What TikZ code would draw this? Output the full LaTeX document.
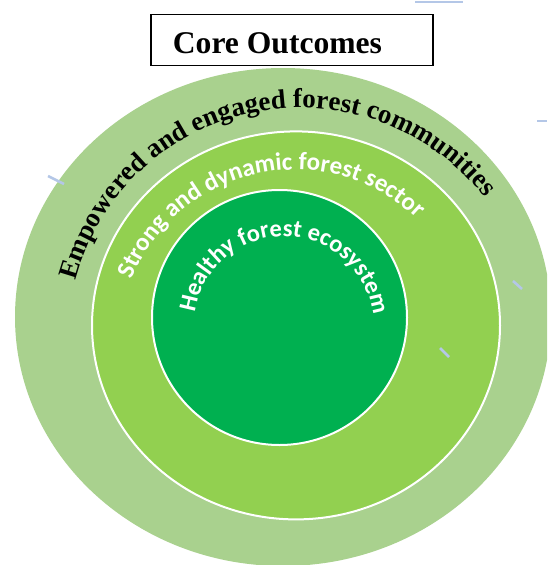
\documentclass[tikz,border=0pt]{standalone}
\usepackage{fontspec}
\setmainfont{Liberation Serif}
\newfontfamily\calibri{Carlito}
\usetikzlibrary{decorations.text}

\definecolor{outerband}{HTML}{A9D18E}
\definecolor{midband}{HTML}{92D050}
\definecolor{coregreen}{HTML}{00B050}
\definecolor{tickblue}{HTML}{B4C7E7}

\tikzset{
  ring/.style={draw=white, line width=2pt},
  titlebox/.style={draw=black, line width=1.6pt, minimum width=282pt, minimum height=51pt, inner sep=0pt},
  tickmark/.style={draw=tickblue, line width=2.6pt},
  arctext/.style={decorate, decoration={text along path, text align=left, text={#1}}},
  whitearctext/.style={decorate, decoration={text along path, text align=left, text color=white, text={#1}}}
}

\begin{document}
\begin{tikzpicture}[x=1pt,y=1pt]
  \useasboundingbox (0,0) rectangle (547,-565);

  % outer band, running past the right and bottom edges
  \begin{scope}
    \clip (0,0) rectangle (547,-565);
    \fill[outerband] (283,-317) ellipse [x radius=268, y radius=249];
  \end{scope}

  % middle band and core disc
  \path[ring, fill=midband] (296,-325.4) ellipse [x radius=204, y radius=194];
  \path[ring, fill=coregreen] (279.5,-317.5) circle [radius=127.5];

  % heading
  \node[titlebox] (title) at (291.7,-40) {};
  \node[anchor=base west, inner sep=0pt] (titletext) at (172.7,-53)
    {\fontsize{31.6}{36}\selectfont\bfseries Core Outcomes};

  % curved labels
  \path[arctext={|\fontsize{27}{27}\selectfont\bfseries|Empowered and engaged forest communities}]
    (300.4,-340.8) ++(165:233) arc[start angle=165, end angle=15, radius=233];

  \path[whitearctext={|\calibri\bfseries\fontsize{25}{25}\selectfont|Strong and dynamic forest sector}]
    (294.6,-345.4) ++(158:175.7) arc[start angle=158, end angle=15, radius=175.7];

  \path[whitearctext={|\calibri\bfseries\fontsize{24.5}{24.5}\selectfont|Healthy forest ecosystem}]
    (283.9,-326.3) ++(171.5:90) arc[start angle=171.5, end angle=-30, radius=90];

  % small stray marks
  \draw[tickmark] (415,-2) -- (463,-2);
  \draw[tickmark] (537,-121) -- (547,-121);
  \draw[tickmark] (48,-176) -- (64,-184);
  \draw[tickmark] (513,-281) -- (522,-289);
  \draw[tickmark] (440,-348) -- (449,-357);
\end{tikzpicture}
\end{document}
